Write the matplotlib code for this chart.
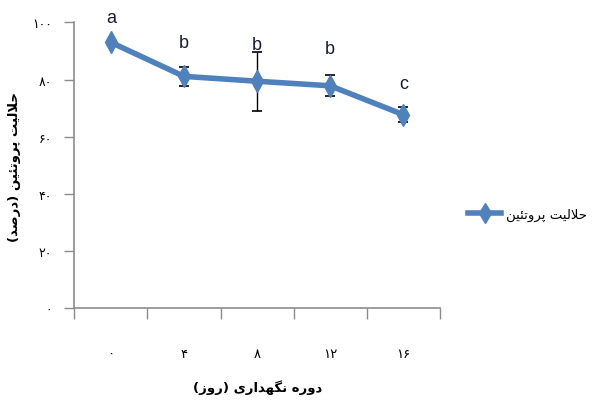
import matplotlib
matplotlib.use("Agg")
import matplotlib.pyplot as plt
from matplotlib.ticker import FixedLocator, NullFormatter

# ---------------- data ----------------
categories = ["۰", "۴", "۸", "۱۲", "۱۶"]
values = [93.0, 81.1, 79.4, 77.8, 67.7]
errors = [0.0, 3.3, 10.3, 3.7, 2.6]
letters = ["a", "b", "b", "b", "c"]
y_ticks = [0, 20, 40, 60, 80, 100]
y_tick_labels = ["۰", "۲۰", "۴۰", "۶۰", "۸۰", "۱۰۰"]
series_name = "حلالیت پروتئین"
y_title = "حلالیت پروتئین (درصد)"
x_title = "دوره نگهداری (روز)"

# ---------------- simple Persian shaper (logical -> visual) ----------------
FORMS = {  # isolated, final, initial, medial
    "\u0627": ("\uFE8D", "\uFE8E", None, None),
    "\u067E": ("\uFB56", "\uFB57", "\uFB58", "\uFB59"),
    "\u062A": ("\uFE95", "\uFE96", "\uFE97", "\uFE98"),
    "\u062D": ("\uFEA1", "\uFEA2", "\uFEA3", "\uFEA4"),
    "\u062F": ("\uFEA9", "\uFEAA", None, None),
    "\u0631": ("\uFEAD", "\uFEAE", None, None),
    "\u0632": ("\uFEAF", "\uFEB0", None, None),
    "\u0635": ("\uFEB9", "\uFEBA", "\uFEBB", "\uFEBC"),
    "\u0644": ("\uFEDD", "\uFEDE", "\uFEDF", "\uFEE0"),
    "\u0646": ("\uFEE5", "\uFEE6", "\uFEE7", "\uFEE8"),
    "\u0647": ("\uFEE9", "\uFEEA", "\uFEEB", "\uFEEC"),
    "\u0648": ("\uFEED", "\uFEEE", None, None),
    "\u06CC": ("\uFBFC", "\uFBFD", "\uFBFE", "\uFBFF"),
    "\u0626": ("\uFE89", "\uFE8A", "\uFE8B", "\uFE8C"),
    "\u06AF": ("\uFB92", "\uFB93", "\uFB94", "\uFB95"),
}
MIRROR = {"(": ")", ")": "("}


def shape(text):
    chars = list(text)
    out = []
    i = 0
    n = len(chars)

    def joins_forward(c):
        return c in FORMS and FORMS[c][2] is not None

    while i < n:
        c = chars[i]
        prev = chars[i - 1] if i > 0 else None
        nxt = chars[i + 1] if i + 1 < n else None
        if c not in FORMS:
            out.append(c)
            i += 1
            continue
        con_prev = prev is not None and joins_forward(prev)
        if c == "\u0644" and nxt == "\u0627":
            out.append("\uFEFC" if con_prev else "\uFEFB")
            i += 2
            continue
        con_next = joins_forward(c) and nxt in FORMS
        iso, fin, ini, med = FORMS[c]
        if con_prev and con_next:
            out.append(med)
        elif con_prev:
            out.append(fin)
        elif con_next:
            out.append(ini)
        else:
            out.append(iso)
        i += 1
    return "".join(MIRROR.get(ch, ch) for ch in reversed(out))


# ---------------- figure ----------------
blue = "#4F81BD"
axis_gray = "#8C8C8C"
fa_font = ["DejaVu Sans"]
lat_font = ["Liberation Sans Narrow", "Liberation Sans", "DejaVu Sans"]

fig = plt.figure(figsize=(5.98, 4.02), dpi=100)
ax = fig.add_axes([0.1242, 0.2306, 0.6115, 0.7114])

x = list(range(len(categories)))
ax.errorbar(x, values, yerr=errors, fmt="none", ecolor="black",
            elinewidth=1, capsize=3.3, capthick=1.2, zorder=2)
line, = ax.plot(x, values, color=blue, lw=4, marker="d", markersize=11,
                markeredgecolor=blue, markerfacecolor=blue,
                label=shape(series_name), zorder=3)

letter_offsets_px = [25, 34, 37, 37, 31]
for xi, v, lt, off in zip(x, values, letters, letter_offsets_px):
    ax.annotate(lt, (xi, v), xytext=(0, off * 0.72), textcoords="offset points",
                ha="center", va="center", fontsize=13, color="#1A1A3A",
                family=lat_font, annotation_clip=False)

ax.set_xlim(-0.5, len(categories) - 0.5)
ax.set_ylim(0, 100)

# x: tick marks between categories, labels at category centers
ax.xaxis.set_major_locator(FixedLocator([i - 0.5 for i in range(len(categories) + 1)]))
ax.xaxis.set_major_formatter(NullFormatter())
ax.set_xticks(x, labels=categories, minor=True)
ax.tick_params(axis="x", which="major", length=8, width=1, color=axis_gray,
               direction="out")
ax.tick_params(axis="x", which="minor", length=0, pad=28, labelsize=9.5)

ax.set_yticks(y_ticks, labels=y_tick_labels)
ax.tick_params(axis="y", length=7, width=1, color=axis_gray, direction="out",
               pad=9, labelsize=9)
for lab in ax.get_xticklabels(minor=True) + ax.get_yticklabels():
    lab.set_family(fa_font)

for s in ["top", "right"]:
    ax.spines[s].set_visible(False)
for s in ["left", "bottom"]:
    ax.spines[s].set_color(axis_gray)
    ax.spines[s].set_linewidth(1.2)

fig.text(0.43, 0.035, shape(x_title), ha="center", va="center",
         fontsize=9.5, fontweight="bold", family=fa_font)
fig.text(0.025, 0.585, shape(y_title), ha="center", va="center",
         rotation=90, fontsize=9.5, fontweight="bold", family=fa_font)

leg = fig.legend(handles=[line], loc="center left",
                 bbox_to_anchor=(0.783, 0.465), frameon=False,
                 prop={"family": fa_font, "size": 9.5}, handlelength=2.5,
                 handletextpad=0.35, borderaxespad=0, borderpad=0)
leg.get_lines()[0].set_markersize(10)

fig.savefig("out.png", dpi=100)
